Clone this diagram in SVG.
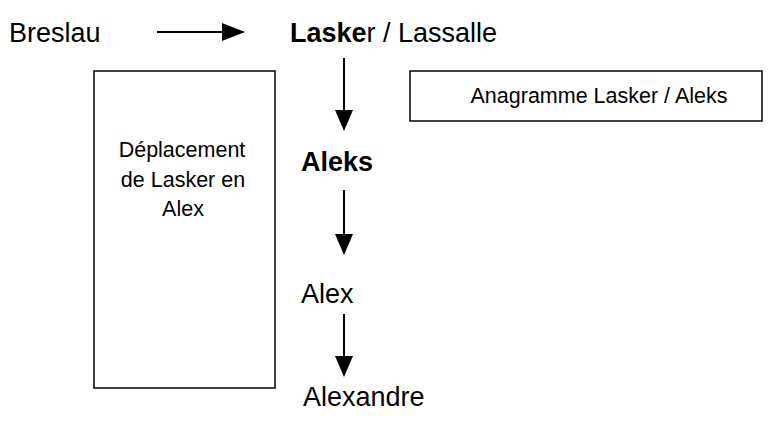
<svg xmlns="http://www.w3.org/2000/svg" width="774" height="428" viewBox="0 0 774 428">
  <style>
    .t { font-family: "Liberation Sans", Arial, sans-serif; fill: #000; }
    .big { font-size: 27px; }
    .small { font-size: 21.5px; }
    .b { font-weight: bold; }
    .box { fill: #fff; stroke: #000; stroke-width: 1.5; }
    .shaft { stroke: #000; stroke-width: 2; }
    .tip { fill: #000; }
  </style>
  <rect width="774" height="428" fill="#fff"/>

  <g id="breslau"><text class="t big" x="9" y="42">Breslau</text></g>
  <g id="lasker"><text class="t big" x="290" y="42"><tspan class="b">Laske</tspan>r / Lassalle</text></g>
  <g id="anagramme">
    <rect class="box" x="410" y="71" width="352" height="50"/>
    <text class="t small" x="599" y="103" text-anchor="middle">Anagramme Lasker / Aleks</text>
  </g>
  <g id="deplacement">
    <rect class="box" x="94" y="71" width="181" height="317"/>
    <text class="t small" x="182" y="157" text-anchor="middle">Déplacement</text>
    <text class="t small" x="183" y="187" text-anchor="middle">de Lasker en</text>
    <text class="t small" x="183" y="216" text-anchor="middle">Alex</text>
  </g>
  <g id="aleks"><text class="t big b" x="301" y="171">Aleks</text></g>
  <g id="alex"><text class="t big" x="301" y="303">Alex</text></g>
  <g id="alexandre"><text class="t big" x="303" y="406">Alexandre</text></g>

  <g id="connectors">
    <line class="shaft" x1="157" y1="32" x2="223" y2="32"/>
    <polygon class="tip" points="222,23 245,32 222,41"/>
    <line class="shaft" x1="344" y1="58" x2="344" y2="111"/>
    <polygon class="tip" points="335,110 353,110 344,131"/>
    <line class="shaft" x1="344" y1="190" x2="344" y2="235"/>
    <polygon class="tip" points="335,234 353,234 344,255"/>
    <line class="shaft" x1="344" y1="314" x2="344" y2="357"/>
    <polygon class="tip" points="335,356 353,356 344,377"/>
  </g>
</svg>
